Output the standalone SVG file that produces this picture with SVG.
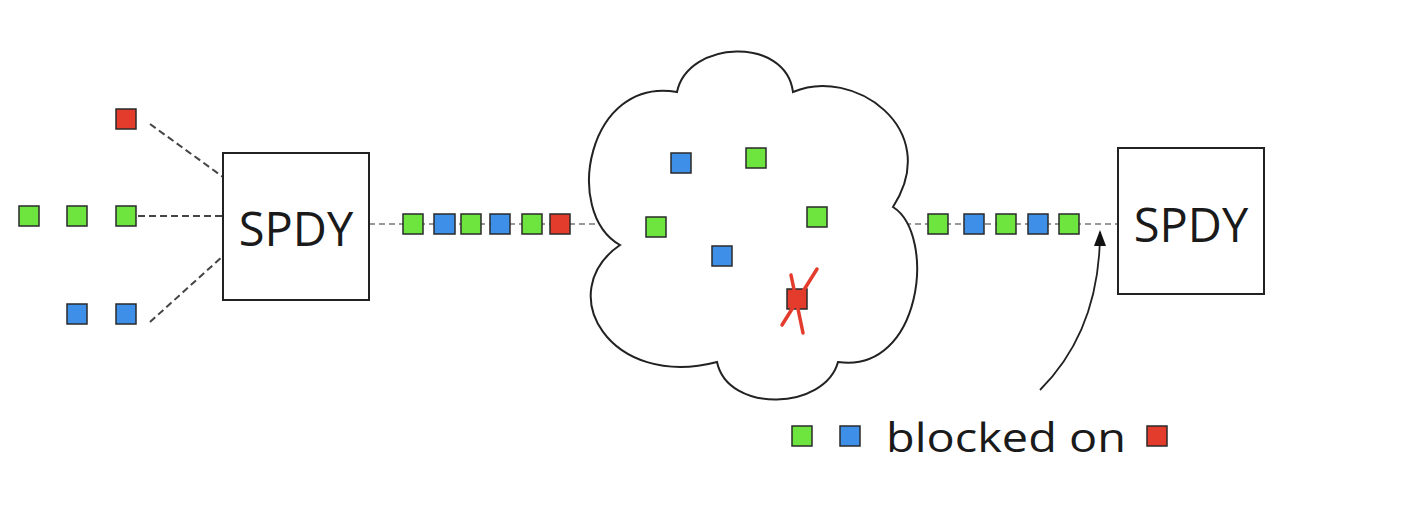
<svg xmlns="http://www.w3.org/2000/svg" width="1404" height="516" viewBox="0 0 1404 516">
<style>
.pk{stroke:#2a2a2a;stroke-width:1.5}
.g{fill:#6ee43f}
.b{fill:#3d8fe8}
.r{fill:#e33b2c}
.box{fill:#fff;stroke:#222;stroke-width:2}
.lbl{font-family:"Open Sans","Liberation Sans",sans-serif;fill:#1a1a1a}
.dash{stroke:#444;stroke-width:2;stroke-dasharray:7,4;fill:none}
.dash2{stroke:#777;stroke-width:1.5;stroke-dasharray:6,4;fill:none}
</style>
<defs>
<marker id="ah" markerWidth="16" markerHeight="12" refX="14" refY="6" orient="auto" markerUnits="userSpaceOnUse" viewBox="0 0 16 12">
<path d="M0,0 L16,6 L0,12 z" fill="#111"/>
</marker>
</defs>
<rect width="1404" height="516" fill="#fff"/>
<g id="connectors">
<line class="dash" x1="150" y1="124" x2="223" y2="177"/>
<line class="dash" x1="138" y1="216" x2="222" y2="216"/>
<line class="dash" x1="150" y1="322" x2="223" y2="256"/>
<line class="dash2" x1="369" y1="224" x2="600" y2="224"/>
<line class="dash2" x1="905" y1="224" x2="1118" y2="224"/>
<path d="M1040,390 Q1100,330 1100,232" fill="none" stroke="#222" stroke-width="1.8" marker-end="url(#ah)"/>
</g>
<g id="spdy-left">
<rect class="box" x="223" y="153" width="146" height="147"/>
<text class="lbl" x="296" y="246" font-size="47" text-anchor="middle">SPDY</text>
</g>
<g id="spdy-right">
<rect class="box" x="1118" y="148" width="146" height="146"/>
<text class="lbl" x="1191" y="242" font-size="47" text-anchor="middle">SPDY</text>
</g>
<g id="cloud">
<path d="M677,92 C688,40 786,36 793,92 C852,66 944,128 893,207 C937,235 922,374 838,362 C825,410 728,414 717,362 C610,390 552,292 620,245 C562,212 588,76 677,92 Z" fill="#fff" stroke="#222" stroke-width="2"/>
<rect class="pk b" x="671" y="153" width="20" height="20"/>
<rect class="pk g" x="746" y="148" width="20" height="20"/>
<rect class="pk g" x="646" y="217" width="20" height="20"/>
<rect class="pk g" x="807" y="207" width="20" height="20"/>
<rect class="pk b" x="712" y="246" width="20" height="20"/>
<rect class="pk r" x="787" y="289" width="20" height="20"/>
<line x1="817" y1="269" x2="782" y2="325" stroke="#e33b2c" stroke-width="3.5" stroke-linecap="round"/>
<line x1="791" y1="275" x2="803" y2="333" stroke="#e33b2c" stroke-width="3.5" stroke-linecap="round"/>
</g>
<g id="sources">
<rect class="pk r" x="116" y="109" width="20" height="20"/>
<rect class="pk g" x="19" y="206" width="20" height="20"/>
<rect class="pk g" x="67" y="206" width="20" height="20"/>
<rect class="pk g" x="116" y="206" width="20" height="20"/>
<rect class="pk b" x="67" y="304" width="20" height="20"/>
<rect class="pk b" x="116" y="304" width="20" height="20"/>
</g>
<g id="stream-left">
<rect class="pk g" x="403" y="214" width="20" height="20"/>
<rect class="pk b" x="434" y="214" width="21" height="20"/>
<rect class="pk g" x="461" y="214" width="20" height="20"/>
<rect class="pk b" x="490" y="214" width="20" height="20"/>
<rect class="pk g" x="522" y="214" width="20" height="20"/>
<rect class="pk r" x="550" y="214" width="20" height="20"/>
</g>
<g id="stream-right">
<rect class="pk g" x="928" y="214" width="20" height="20"/>
<rect class="pk b" x="964" y="214" width="20" height="20"/>
<rect class="pk g" x="996" y="214" width="20" height="20"/>
<rect class="pk b" x="1028" y="214" width="20" height="20"/>
<rect class="pk g" x="1059" y="214" width="20" height="20"/>
</g>
<g id="legend">
<rect class="pk g" x="792" y="426" width="20" height="20"/>
<rect class="pk b" x="840" y="426" width="20" height="20"/>
<text class="lbl" x="886" y="452" font-size="41" textLength="240" lengthAdjust="spacingAndGlyphs">blocked on</text>
<rect class="pk r" x="1147" y="426" width="20" height="20"/>
</g>
</svg>
